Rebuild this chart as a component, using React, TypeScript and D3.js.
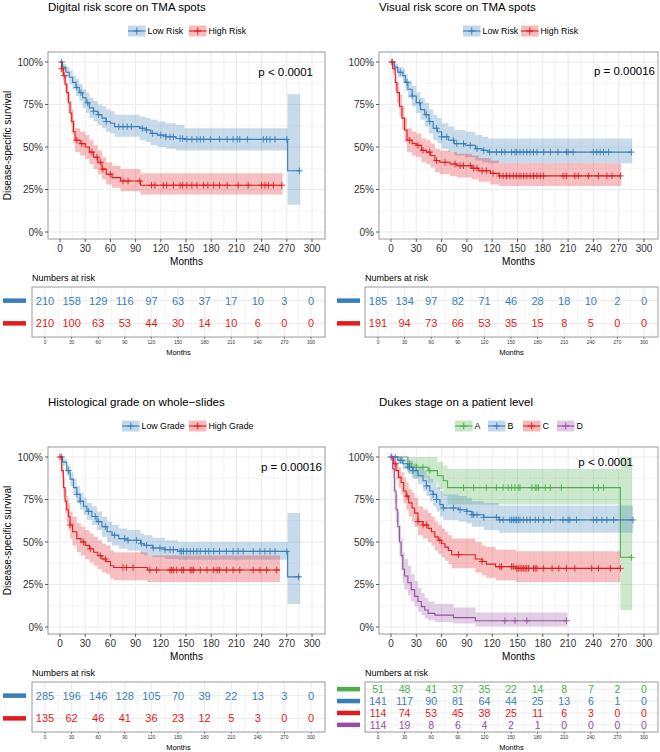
import React from "react";
import * as d3 from "d3";

const FONT = "'Liberation Sans', Arial, Helvetica, sans-serif";
const RED = "#E41A1C";
const BLUE = "#377EB8";
const GREEN = "#4DAF4A";
const PURPLE = "#984EA3";

const timeTicks = [0, 30, 60, 90, 120, 150, 180, 210, 240, 270, 300];
const minorTimeTicks = [15, 45, 75, 105, 135, 165, 195, 225, 255, 285];
const survTicks = [0, 0.25, 0.5, 0.75, 1];
const survTickLabels = ["0%", "25%", "50%", "75%", "100%"];
const minorSurvTicks = [0.125, 0.375, 0.625, 0.875];

// rows: [time, survival, lower CI, upper CI]
const digitalLow = [
  [0, 1, 1, 1], [3, 0.97, 0.95, 0.99], [7, 0.94, 0.91, 0.97], [11, 0.91, 0.87, 0.95],
  [15, 0.88, 0.84, 0.92], [19, 0.85, 0.8, 0.9], [23, 0.82, 0.77, 0.87], [27, 0.79, 0.73, 0.84],
  [31, 0.76, 0.7, 0.82], [35, 0.73, 0.67, 0.79], [40, 0.71, 0.65, 0.77], [45, 0.69, 0.63, 0.75],
  [50, 0.67, 0.61, 0.74], [55, 0.65, 0.59, 0.72], [60, 0.64, 0.58, 0.71], [65, 0.62, 0.56, 0.69],
  [95, 0.61, 0.54, 0.68], [102, 0.6, 0.53, 0.67], [108, 0.58, 0.51, 0.66], [116, 0.57, 0.5, 0.65],
  [126, 0.56, 0.49, 0.64], [138, 0.55, 0.48, 0.63], [148, 0.545, 0.48, 0.61], [271, 0.36, 0.16, 0.81],
  [286, 0.36, 0.16, 0.81],
];
const digitalLowCensor = [2, 20, 25, 33, 40, 46, 55, 70, 75, 80, 85, 98, 103, 110, 120, 126, 131, 135, 143, 146, 151, 157, 163, 167, 171, 179, 190, 199, 206, 211, 214, 223, 242, 246, 250, 256, 270, 285];
const digitalHigh = [
  [0, 1, 1, 1], [2, 0.96, 0.93, 0.99], [4, 0.92, 0.88, 0.96], [6, 0.87, 0.82, 0.92],
  [8, 0.82, 0.77, 0.87], [10, 0.76, 0.7, 0.82], [12, 0.7, 0.64, 0.77], [14, 0.65, 0.58, 0.72],
  [16, 0.59, 0.52, 0.66], [18, 0.54, 0.47, 0.61], [24, 0.52, 0.45, 0.59], [30, 0.5, 0.43, 0.57],
  [35, 0.47, 0.4, 0.54], [40, 0.44, 0.37, 0.51], [45, 0.41, 0.34, 0.48], [50, 0.37, 0.31, 0.44],
  [55, 0.34, 0.28, 0.41], [62, 0.32, 0.26, 0.39], [72, 0.3, 0.24, 0.37], [96, 0.275, 0.22, 0.345],
  [265, 0.275, 0.22, 0.345],
];
const digitalHighCensor = [2, 5, 20, 26, 38, 44, 48, 51, 60, 75, 81, 95, 109, 113, 123, 127, 135, 143, 146, 151, 157, 163, 171, 176, 183, 190, 199, 212, 224, 240, 244, 248, 254, 264];

const visualLow = [
  [0, 1, 1, 1], [4, 0.97, 0.95, 0.99], [8, 0.94, 0.91, 0.97], [14, 0.92, 0.88, 0.96],
  [17, 0.88, 0.83, 0.93], [20, 0.84, 0.79, 0.89], [25, 0.8, 0.74, 0.86], [30, 0.76, 0.7, 0.82],
  [35, 0.72, 0.66, 0.79], [40, 0.69, 0.62, 0.76], [45, 0.65, 0.58, 0.72], [50, 0.61, 0.54, 0.69],
  [55, 0.59, 0.52, 0.67], [60, 0.56, 0.49, 0.64], [68, 0.54, 0.47, 0.62], [75, 0.52, 0.45, 0.6],
  [88, 0.51, 0.44, 0.59], [100, 0.49, 0.42, 0.57], [108, 0.48, 0.41, 0.56], [115, 0.47, 0.405, 0.55],
  [286, 0.47, 0.405, 0.55],
];
const visualLowCensor = [2, 11, 19, 25, 34, 42, 46, 54, 60, 66, 74, 78, 86, 94, 102, 110, 117, 125, 131, 135, 143, 147, 149, 153, 157, 161, 165, 169, 173, 181, 189, 198, 208, 210, 216, 240, 244, 248, 252, 258, 285];
const visualHigh = [
  [0, 1, 1, 1], [2, 0.96, 0.93, 0.99], [5, 0.88, 0.83, 0.93], [7, 0.82, 0.76, 0.88],
  [10, 0.74, 0.68, 0.81], [13, 0.67, 0.6, 0.74], [16, 0.6, 0.53, 0.67], [19, 0.54, 0.47, 0.61],
  [25, 0.52, 0.45, 0.59], [30, 0.51, 0.44, 0.58], [36, 0.48, 0.41, 0.55], [42, 0.47, 0.4, 0.54],
  [47, 0.45, 0.38, 0.52], [52, 0.42, 0.35, 0.49], [58, 0.41, 0.34, 0.48], [70, 0.4, 0.33, 0.47],
  [78, 0.39, 0.32, 0.46], [96, 0.375, 0.31, 0.45], [104, 0.36, 0.295, 0.435], [118, 0.345, 0.28, 0.42],
  [128, 0.33, 0.27, 0.405], [273, 0.33, 0.27, 0.405],
];
const visualHighCensor = [1, 22, 32, 38, 46, 54, 64, 76, 82, 86, 94, 98, 102, 108, 113, 121, 129, 133, 137, 141, 145, 149, 153, 157, 161, 165, 169, 173, 177, 181, 204, 208, 218, 222, 234, 246, 256, 262, 272];

const histLow = [
  [0, 1, 1, 1], [3, 0.97, 0.95, 0.99], [8, 0.92, 0.89, 0.95], [12, 0.87, 0.83, 0.91],
  [16, 0.82, 0.78, 0.87], [20, 0.78, 0.73, 0.83], [24, 0.74, 0.69, 0.79], [28, 0.71, 0.66, 0.76],
  [32, 0.68, 0.63, 0.73], [38, 0.65, 0.6, 0.71], [44, 0.62, 0.57, 0.68], [50, 0.59, 0.53, 0.65],
  [56, 0.56, 0.5, 0.62], [62, 0.54, 0.48, 0.6], [70, 0.52, 0.46, 0.58], [80, 0.51, 0.45, 0.57],
  [96, 0.49, 0.43, 0.55], [100, 0.48, 0.42, 0.54], [110, 0.465, 0.41, 0.525], [125, 0.455, 0.4, 0.51],
  [140, 0.445, 0.395, 0.5], [271, 0.295, 0.135, 0.67], [286, 0.295, 0.135, 0.67],
];
const histLowCensor = [2, 10, 20, 24, 34, 42, 46, 54, 65, 77, 81, 91, 97, 103, 111, 119, 125, 131, 135, 143, 145, 147, 151, 155, 159, 163, 167, 173, 177, 183, 190, 198, 206, 212, 218, 230, 238, 244, 250, 256, 270, 284];
const histHigh = [
  [0, 1, 1, 1], [2, 0.92, 0.88, 0.96], [4, 0.82, 0.76, 0.88], [6, 0.74, 0.67, 0.81],
  [8, 0.69, 0.61, 0.77], [10, 0.65, 0.57, 0.73], [12, 0.6, 0.52, 0.68], [15, 0.56, 0.48, 0.65],
  [20, 0.52, 0.44, 0.61], [25, 0.5, 0.42, 0.59], [30, 0.48, 0.4, 0.57], [35, 0.46, 0.38, 0.55],
  [40, 0.44, 0.36, 0.53], [45, 0.42, 0.34, 0.51], [50, 0.4, 0.32, 0.49], [55, 0.385, 0.31, 0.48],
  [60, 0.36, 0.285, 0.45], [64, 0.35, 0.275, 0.44], [104, 0.335, 0.265, 0.42], [262, 0.335, 0.265, 0.42],
];
const histHighCensor = [0, 12, 28, 36, 48, 54, 75, 79, 87, 107, 115, 131, 133, 135, 139, 145, 147, 155, 157, 159, 167, 175, 183, 187, 190, 198, 206, 214, 230, 238, 246, 258];

const dukesA = [
  [0, 1, 1, 1], [20, 0.96, 0.91, 1], [24, 0.94, 0.88, 1], [44, 0.92, 0.85, 1],
  [55, 0.89, 0.81, 0.97], [62, 0.86, 0.77, 0.95], [67, 0.82, 0.72, 0.93], [272, 0.41, 0.1, 1],
  [286, 0.41, 0.1, 1],
];
const dukesACensor = [22, 30, 38, 46, 86, 98, 113, 125, 133, 139, 143, 147, 151, 153, 167, 171, 173, 175, 183, 189, 202, 240, 246, 252, 285];
const dukesB = [
  [0, 1, 1, 1], [8, 0.98, 0.96, 1], [14, 0.96, 0.93, 0.99], [20, 0.94, 0.9, 0.98],
  [26, 0.92, 0.87, 0.96], [32, 0.89, 0.84, 0.94], [38, 0.86, 0.8, 0.92], [42, 0.83, 0.77, 0.89],
  [46, 0.8, 0.74, 0.87], [50, 0.78, 0.71, 0.85], [54, 0.75, 0.68, 0.82], [58, 0.72, 0.65, 0.8],
  [62, 0.7, 0.63, 0.78], [80, 0.69, 0.62, 0.77], [90, 0.68, 0.61, 0.76], [96, 0.66, 0.59, 0.74],
  [110, 0.645, 0.57, 0.73], [128, 0.63, 0.555, 0.715], [287, 0.63, 0.555, 0.715],
];
const dukesBCensor = [1, 5, 11, 13, 20, 22, 26, 42, 50, 54, 62, 74, 82, 90, 96, 98, 102, 110, 125, 129, 133, 141, 143, 145, 147, 149, 151, 153, 157, 161, 165, 171, 175, 181, 189, 204, 210, 212, 220, 240, 244, 250, 256, 264, 287];
const dukesC = [
  [0, 1, 1, 1], [3, 0.96, 0.92, 0.99], [6, 0.92, 0.87, 0.97], [9, 0.88, 0.82, 0.94],
  [12, 0.85, 0.78, 0.91], [15, 0.8, 0.73, 0.88], [18, 0.77, 0.69, 0.85], [21, 0.73, 0.65, 0.81],
  [25, 0.7, 0.62, 0.79], [28, 0.67, 0.59, 0.76], [32, 0.62, 0.54, 0.71], [38, 0.6, 0.52, 0.69],
  [44, 0.58, 0.5, 0.67], [48, 0.56, 0.48, 0.65], [52, 0.53, 0.45, 0.62], [56, 0.51, 0.43, 0.6],
  [60, 0.49, 0.41, 0.58], [64, 0.47, 0.39, 0.56], [68, 0.45, 0.37, 0.54], [72, 0.425, 0.345, 0.52],
  [100, 0.4, 0.32, 0.5], [108, 0.385, 0.305, 0.48], [113, 0.37, 0.29, 0.47], [124, 0.355, 0.275, 0.455],
  [148, 0.345, 0.265, 0.445], [272, 0.345, 0.265, 0.445],
];
const dukesCCensor = [5, 19, 32, 38, 42, 58, 80, 108, 129, 131, 143, 145, 149, 151, 153, 155, 157, 159, 161, 163, 169, 171, 173, 181, 191, 199, 208, 218, 238, 246, 260, 272];
const dukesD = [
  [0, 1, 1, 1], [2, 0.93, 0.88, 0.98], [4, 0.8, 0.73, 0.88], [6, 0.69, 0.61, 0.78],
  [8, 0.59, 0.51, 0.68], [10, 0.5, 0.42, 0.6], [12, 0.42, 0.34, 0.52], [14, 0.34, 0.26, 0.44],
  [16, 0.3, 0.22, 0.4], [20, 0.26, 0.19, 0.36], [24, 0.22, 0.15, 0.31], [28, 0.18, 0.12, 0.27],
  [32, 0.15, 0.09, 0.23], [36, 0.12, 0.07, 0.2], [40, 0.1, 0.05, 0.17], [44, 0.08, 0.04, 0.15],
  [52, 0.07, 0.03, 0.135], [74, 0.055, 0.02, 0.115], [100, 0.037, 0.005, 0.085], [209, 0.037, 0.005, 0.085],
];
const dukesDCensor = [0, 135, 147, 161, 208];

// numbers at risk at 0, 30, ..., 300 months
const digitalLowRisk = [210, 158, 129, 116, 97, 63, 37, 17, 10, 3, 0];
const digitalHighRisk = [210, 100, 63, 53, 44, 30, 14, 10, 6, 0, 0];
const visualLowRisk = [185, 134, 97, 82, 71, 46, 28, 18, 10, 2, 0];
const visualHighRisk = [191, 94, 73, 66, 53, 35, 15, 8, 5, 0, 0];
const histLowRisk = [285, 196, 146, 128, 105, 70, 39, 22, 13, 3, 0];
const histHighRisk = [135, 62, 46, 41, 36, 23, 12, 5, 3, 0, 0];
const dukesARisk = [51, 48, 41, 37, 35, 22, 14, 8, 7, 2, 0];
const dukesBRisk = [141, 117, 90, 81, 64, 44, 25, 13, 6, 1, 0];
const dukesCRisk = [114, 74, 53, 45, 38, 25, 11, 6, 3, 0, 0];
const dukesDRisk = [114, 19, 8, 6, 4, 2, 1, 0, 0, 0, 0];

type Curve = { name: string; color: string; data: number[][]; censor: number[]; risk: number[] };

type Layout = {
  dy: number; plotL: number; plotR: number; x0: number; x300: number;
  tblL: number; tblR: number; col0: number; col300: number; barL: number; barR: number;
  keyX: number[]; pRight: number; pY: number; yTitle: boolean; riskFont: number;
};

const GRID = "#EBEBEB";
const BORDER = "#9A9A9A";
const TXT = "#333333";

function stepValue(data: number[][], t: number) {
  const i = d3.bisector((d: number[]) => d[0]).right(data, t) - 1;
  return data[Math.max(0, i)][1];
}

function Panel({ L, title, pText, curves }: { L: Layout; title: string; pText: string; curves: Curve[] }) {
  const dy = L.dy;
  const x = d3.scaleLinear().domain([0, 300]).range([L.x0, L.x300]);
  const y = d3.scaleLinear().domain([0, 1]).range([dy + 232, dy + 62]);
  const plotT = dy + 52;
  const plotB = dy + 239;
  const line = d3.line<number[]>().curve(d3.curveStepAfter).x((d) => x(d[0])).y((d) => y(d[1]));
  const area = d3
    .area<number[]>()
    .curve(d3.curveStepAfter)
    .x((d) => x(d[0]))
    .y0((d) => y(d[2]))
    .y1((d) => y(d[3]));
  const plus = (cx: number, cy: number, r: number) => `M${cx - r},${cy}h${2 * r}M${cx},${cy - r}v${2 * r}`;

  const tblT = dy + 287;
  const tblB = dy + 337;
  const tx = d3.scaleLinear().domain([0, 300]).range([L.col0, L.col300]);
  const ty = d3
    .scalePoint<string>()
    .domain(curves.map((c) => c.name))
    .range([tblT, tblB])
    .padding(0.6);
  const midX = (L.plotL + L.plotR) / 2;
  const tMid = (L.tblL + L.tblR) / 2;

  return (
    <g>
      <text x={L.plotL} y={dy + 11} fontSize={11.5} fill="#000">{title}</text>
      {/* legend */}
      {curves.map((c, i) => {
        const kx = L.keyX[i];
        const ky = dy + 31;
        return (
          <g key={c.name}>
            <rect x={kx} y={ky - 5.5} width={17.5} height={11} fill={c.color} fillOpacity={0.3} />
            <line x1={kx} x2={kx + 17.5} y1={ky} y2={ky} stroke={c.color} strokeWidth={1.1} />
            <path d={plus(kx + 8.75, ky, 3.5)} stroke={c.color} strokeWidth={1} />
            <text x={kx + 19.5} y={ky + 3} fontSize={8.8} fill="#000">{c.name}</text>
          </g>
        );
      })}
      {/* plot panel */}
      <rect x={L.plotL} y={plotT} width={L.plotR - L.plotL} height={plotB - plotT} fill="white" />
      {minorTimeTicks.map((t) => (
        <line key={"mx" + t} x1={x(t)} x2={x(t)} y1={plotT} y2={plotB} stroke={GRID} strokeWidth={0.5} />
      ))}
      {minorSurvTicks.map((s) => (
        <line key={"my" + s} x1={L.plotL} x2={L.plotR} y1={y(s)} y2={y(s)} stroke={GRID} strokeWidth={0.5} />
      ))}
      {timeTicks.map((t) => (
        <line key={"gx" + t} x1={x(t)} x2={x(t)} y1={plotT} y2={plotB} stroke={GRID} strokeWidth={1} />
      ))}
      {survTicks.map((s) => (
        <line key={"gy" + s} x1={L.plotL} x2={L.plotR} y1={y(s)} y2={y(s)} stroke={GRID} strokeWidth={1} />
      ))}
      {curves.map((c) => (
        <path key={"a" + c.name} d={area(c.data) || ""} fill={c.color} fillOpacity={0.28} />
      ))}
      {curves.map((c) => (
        <g key={"l" + c.name}>
          <path d={line(c.data) || ""} fill="none" stroke={c.color} strokeWidth={1.1} />
          <path
            d={c.censor.map((t) => plus(x(t), y(stepValue(c.data, t)), 3.3)).join("")}
            stroke={c.color}
            strokeWidth={0.9}
            fill="none"
          />
        </g>
      ))}
      <rect x={L.plotL} y={plotT} width={L.plotR - L.plotL} height={plotB - plotT} fill="none" stroke={BORDER} strokeWidth={1} />
      <text x={L.pRight} y={dy + L.pY} fontSize={11.5} textAnchor="end" fill="#000">{pText}</text>
      {/* axes */}
      {survTicks.map((s, i) => (
        <g key={"yt" + s}>
          <line x1={L.plotL - 3} x2={L.plotL} y1={y(s)} y2={y(s)} stroke={TXT} strokeWidth={0.8} />
          <text x={L.plotL - 5} y={y(s) + 3.5} fontSize={10} textAnchor="end" fill={TXT}>{survTickLabels[i]}</text>
        </g>
      ))}
      {timeTicks.map((t) => (
        <g key={"xt" + t}>
          <line x1={x(t)} x2={x(t)} y1={plotB} y2={plotB + 3} stroke={TXT} strokeWidth={0.8} />
          <text x={x(t)} y={dy + 252} fontSize={10} textAnchor="middle" fill={TXT}>{t}</text>
        </g>
      ))}
      <text x={midX} y={dy + 265} fontSize={10} textAnchor="middle" fill="#000">Months</text>
      {L.yTitle && (
        <text
          transform={`translate(10.5,${(plotT + plotB) / 2}) rotate(-90)`}
          fontSize={10}
          textAnchor="middle"
          fill="#000"
        >
          Disease-specific survival
        </text>
      )}
      {/* risk table */}
      <text x={L.tblL} y={dy + 281} fontSize={9} fill="#000">Numbers at risk</text>
      <rect x={L.tblL} y={tblT} width={L.tblR - L.tblL} height={tblB - tblT} fill="white" />
      {minorTimeTicks.map((t) => (
        <line key={"tmx" + t} x1={tx(t)} x2={tx(t)} y1={tblT} y2={tblB} stroke={GRID} strokeWidth={0.5} />
      ))}
      {timeTicks.map((t) => (
        <line key={"tgx" + t} x1={tx(t)} x2={tx(t)} y1={tblT} y2={tblB} stroke={GRID} strokeWidth={1} />
      ))}
      {curves.map((c) => (
        <line key={"tgy" + c.name} x1={L.tblL} x2={L.tblR} y1={ty(c.name)} y2={ty(c.name)} stroke={GRID} strokeWidth={1} />
      ))}
      {curves.map((c) => (
        <g key={"tr" + c.name}>
          <line x1={L.barL} x2={L.barR} y1={ty(c.name)} y2={ty(c.name)} stroke={c.color} strokeWidth={4.5} />
          {c.risk.map((n, i) => (
            <text
              key={i}
              x={tx(timeTicks[i])}
              y={(ty(c.name) || 0) + L.riskFont * 0.36}
              fontSize={L.riskFont}
              textAnchor="middle"
              fill={c.color}
            >
              {n}
            </text>
          ))}
        </g>
      ))}
      <rect x={L.tblL} y={tblT} width={L.tblR - L.tblL} height={tblB - tblT} fill="none" stroke={BORDER} strokeWidth={1} />
      {timeTicks.map((t) => (
        <g key={"ttk" + t}>
          <line x1={tx(t)} x2={tx(t)} y1={tblB} y2={tblB + 2} stroke={TXT} strokeWidth={0.6} />
          <text x={tx(t)} y={tblB + 6.5} fontSize={4.8} textAnchor="middle" fill={TXT}>{t}</text>
        </g>
      ))}
      <text x={tMid} y={dy + 355} fontSize={7.5} textAnchor="middle" fill="#000">Months</text>
    </g>
  );
}

const LTL: Layout = { dy: 0, plotL: 48, plotR: 325, x0: 60, x300: 312, tblL: 32, tblR: 325, col0: 45, col300: 311, barL: 3, barR: 26, keyX: [128, 189], pRight: 313, pY: 75.5, yTitle: true, riskFont: 11 };
const LTR: Layout = { dy: 0, plotL: 379, plotR: 658, x0: 391, x300: 644, tblL: 365, tblR: 658, col0: 378, col300: 644, barL: 337, barR: 360, keyX: [463, 521], pRight: 655, pY: 74.5, yTitle: false, riskFont: 11 };
const LBL: Layout = { dy: 395, plotL: 48, plotR: 325, x0: 60, x300: 312, tblL: 32, tblR: 325, col0: 45, col300: 311, barL: 3, barR: 26, keyX: [122, 189], pRight: 322, pY: 76, yTitle: true, riskFont: 11 };
const LBR: Layout = { dy: 395, plotL: 379, plotR: 658, x0: 391, x300: 644, tblL: 365, tblR: 658, col0: 378, col300: 644, barL: 337, barR: 360, keyX: [455, 488, 523, 557], pRight: 633, pY: 71, yTitle: false, riskFont: 10.5 };

export default function App() {
  return (
    <svg width={660} height={752} style={{ position: "absolute", left: 0, top: 0, fontFamily: FONT }}>
      <rect width={660} height={752} fill="white" />
      <Panel
        L={LTL}
        title="Digital risk score on TMA spots"
        pText="p < 0.0001"
        curves={[
          { name: "Low Risk", color: BLUE, data: digitalLow, censor: digitalLowCensor, risk: digitalLowRisk },
          { name: "High Risk", color: RED, data: digitalHigh, censor: digitalHighCensor, risk: digitalHighRisk },
        ]}
      />
      <Panel
        L={LTR}
        title="Visual risk score on TMA spots"
        pText="p = 0.00016"
        curves={[
          { name: "Low Risk", color: BLUE, data: visualLow, censor: visualLowCensor, risk: visualLowRisk },
          { name: "High Risk", color: RED, data: visualHigh, censor: visualHighCensor, risk: visualHighRisk },
        ]}
      />
      <Panel
        L={LBL}
        title="Histological grade on whole−slides"
        pText="p = 0.00016"
        curves={[
          { name: "Low Grade", color: BLUE, data: histLow, censor: histLowCensor, risk: histLowRisk },
          { name: "High Grade", color: RED, data: histHigh, censor: histHighCensor, risk: histHighRisk },
        ]}
      />
      <Panel
        L={LBR}
        title="Dukes stage on a patient level"
        pText="p < 0.0001"
        curves={[
          { name: "A", color: GREEN, data: dukesA, censor: dukesACensor, risk: dukesARisk },
          { name: "B", color: BLUE, data: dukesB, censor: dukesBCensor, risk: dukesBRisk },
          { name: "C", color: RED, data: dukesC, censor: dukesCCensor, risk: dukesCRisk },
          { name: "D", color: PURPLE, data: dukesD, censor: dukesDCensor, risk: dukesDRisk },
        ]}
      />
    </svg>
  );
}
